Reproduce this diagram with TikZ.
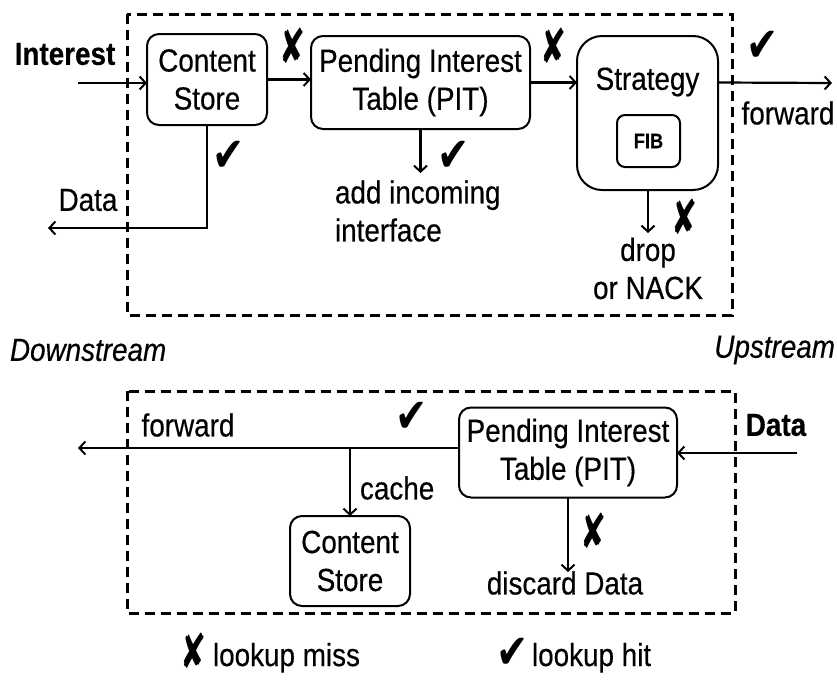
\documentclass[tikz,border=0pt]{standalone}
\usepackage{fontspec}
\setmainfont{Liberation Sans}[FakeStretch=0.87,FakeBold=0.4]
\newfontfamily\hitfont{DejaVu Sans}[FakeStretch=0.8]
\newfontfamily\missfont{DejaVu Sans}[FakeStretch=0.65]
\usetikzlibrary{arrows.meta}
\newcommand{\hit}{{\hitfont\fontsize{48}{48}\selectfont\char"2714}}
\newcommand{\miss}{{\missfont\fontsize{48}{48}\selectfont\char"2718}}
\begin{document}
\begin{tikzpicture}[x=1pt,y=-1pt,
  every node/.style={inner sep=0pt, outer sep=0pt, font=\fontsize{32}{38}\selectfont},
  box/.style={draw, line width=2pt, rounded corners=12pt, align=center},
  frame/.style={draw, line width=3pt, dash pattern=on 10pt off 6pt},
  arr/.style={line width=2.2pt, -{Straight Barb[length=6pt,width=13pt,line width=2pt]}},
  lbl/.style={align=center},
  sym/.style={inner sep=0pt}]
\useasboundingbox (0,0) rectangle (837,680);

% ---------- Interest path ----------
\draw[frame] (127,14) rectangle (732,315);

\node[box, minimum width=120pt, minimum height=91pt] (cs) at (207,79.5) {Content\\Store};
\node[box, minimum width=219pt, minimum height=93pt] (pit) at (420.5,82.5) {Pending Interest\\Table (PIT)};
\node[box, rounded corners=25pt, minimum width=141pt, minimum height=154pt] (strat) at (647.5,113) {};
\node[lbl] (strattxt) at (647.5,82) {Strategy};
\node[box, rounded corners=8pt, minimum width=63pt, minimum height=52pt,
      font=\fontsize{21}{24}\selectfont\bfseries] (fib) at (648.5,141) {FIB};

\coordinate (inStart) at (78,83);
\coordinate (fwdEnd) at (832,83);
\coordinate (dataEnd) at (48,228);
\coordinate (dropEnd) at (648,233);
\coordinate (addEnd) at (420.5,173);

\draw[arr] (inStart) -- (inStart -| cs.west);
\draw[arr] (cs.east) -- (cs.east -| pit.west);
\draw[arr] (pit.east) -- (pit.east -| strat.west);
\draw[arr] (pit.east -| strat.east) -- (fwdEnd);
\draw[arr] (strat.south -| dropEnd) -- (dropEnd);
\draw[arr] (pit.south) -- (addEnd);
\draw[arr] (cs.south) -- (cs.south |- dataEnd) -- (dataEnd);

\node[font=\fontsize{32}{38}\selectfont\bfseries] (interest) at (65,54) {Interest};
\node[sym] (m1) at (293,46) {\miss};
\node[sym] (m2) at (554,46) {\miss};
\node[sym] (h1) at (763,46) {\hit};
\node (fwd1) at (788,113) {forward};
\node[sym] (h2) at (454,156) {\hit};
\node[align=left, anchor=west] (addtxt) at (335,211) {add incoming\\interface};
\node[sym] (m3) at (685,217) {\miss};
\node[lbl] (droptxt) at (648,268.5) {drop\\or NACK};
\node[sym] (h3) at (229,156) {\hit};
\node (data1) at (88,200) {Data};

\node[anchor=west, font=\fontsize{32}{38}\selectfont\itshape] (down) at (10,350) {Downstream};
\node[anchor=east, font=\fontsize{32}{38}\selectfont\itshape] (up) at (835,350) {Upstream};

% ---------- Data path ----------
\draw[frame] (127,391) rectangle (735,613);

\node[box, minimum width=218pt, minimum height=90pt] (pitb) at (568,452.5) {Pending Interest\\Table (PIT)};
\node[box, minimum width=120pt, minimum height=90pt] (csb) at (350,561) {Content\\Store};

\coordinate (dataStart) at (797,453);
\coordinate (fwdB) at (78,448);
\coordinate (junc) at (350,448);
\coordinate (discEnd) at (568,572);

\draw[arr] (dataStart) -- (dataStart -| pitb.east);
\draw[arr] (fwdB -| pitb.west) -- (fwdB);
\draw[arr] (junc) -- (csb.north);
\draw[arr] (pitb.south) -- (discEnd);

\node (fwd2) at (188,425) {forward};
\node[sym] (h4) at (412,417) {\hit};
\node[font=\fontsize{32}{38}\selectfont\bfseries] (data2) at (776,425) {Data};
\node[anchor=west] (cache) at (360,488) {cache};
\node[sym] (m4) at (594,531) {\miss};
\node (disc) at (565,583) {discard Data};

% ---------- Legend (set on a common baseline) ----------
\node[sym, anchor=base] (lm) at (194,668) {\miss};
\node[anchor=base west] (lmtxt) at (213,666) {lookup miss};
\node[sym, anchor=base] (lh) at (513,668) {\hit};
\node[anchor=base west] (lhtxt) at (532,666) {lookup hit};
\end{tikzpicture}
\end{document}
